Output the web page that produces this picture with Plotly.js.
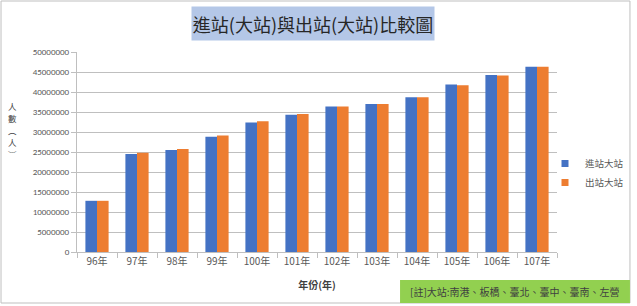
<!DOCTYPE html>
<html>
<head>
<meta charset="utf-8">
<script src="https://cdn.plot.ly/plotly-3.0.1.min.js"></script>
<style>html,body{margin:0;padding:0;background:#fff;}#chart{width:637px;height:306px;}</style>
</head>
<body>
<div id="chart"></div>
<script>
const categories = ['96年','97年','98年','99年','100年','101年','102年','103年','104年','105年','106年','107年'];
const entryValues = [12800000,24500000,25500000,28800000,32400000,34300000,36400000,37000000,38700000,41900000,44250000,46300000];
const exitValues  = [12800000,24800000,25750000,29100000,32700000,34500000,36400000,37000000,38700000,41700000,44100000,46300000];
const seriesNames = ['進站大站','出站大站'];
const seriesColors = ['#4472c4','#ed7d31'];
const yTicks = [0,5000000,10000000,15000000,20000000,25000000,30000000,35000000,40000000,45000000,50000000];
const yTitleChars = ['人','數','︵','人','︶'];

const FONT = 'Carlito, "Liberation Sans", "Noto Sans CJK TC", sans-serif';
const CJK = '"Noto Sans CJK TC", sans-serif';

const traces = [
  {type:'bar', name:seriesNames[0], x:categories, y:entryValues, marker:{color:seriesColors[0]}, showlegend:false},
  {type:'bar', name:seriesNames[1], x:categories, y:exitValues, marker:{color:seriesColors[1]}, showlegend:false},
  {type:'scatter', mode:'markers', name:seriesNames[0], x:[null], y:[null], marker:{color:seriesColors[0], symbol:'square', size:7}},
  {type:'scatter', mode:'markers', name:seriesNames[1], x:[null], y:[null], marker:{color:seriesColors[1], symbol:'square', size:7}}
];

const yTitleY = [0.73, 0.67, 0.61, 0.55, 0.49];
const yTitleAnns = yTitleChars.map((c,i)=>({
  xref:'paper', yref:'paper', x:-0.135, y:yTitleY[i], xanchor:'center', yanchor:'middle', showarrow:false,
  text:c, font:{family:CJK, size:8.5, color:'#404040'}
}));

const layout = {
  width:637, height:306,
  margin:{l:77, r:80, t:52, b:54, autoexpand:false},
  paper_bgcolor:'#ffffff', plot_bgcolor:'#ffffff',
  barmode:'group', bargap:0.42, bargroupgap:0,
  font:{family:FONT, size:9, color:'#595959'},
  showlegend:true,
  legend:{x:0.975, xanchor:'left', y:0.395, yanchor:'middle', font:{family:CJK, size:9.5, color:'#595959'}, itemwidth:30, tracegroupgap:0, bgcolor:'rgba(0,0,0,0)'},
  xaxis:{
    type:'category', tickfont:{family:CJK, size:10, color:'#595959'},
    showline:true, linecolor:'#bfbfbf', linewidth:1,
    ticks:'outside', tickson:'boundaries', ticklen:5, tickcolor:'#bfbfbf',
    showgrid:false,
    title:{text:'<b>年份(年)</b>', font:{family:CJK, size:10, color:'#404040'}, standoff:14}
  },
  yaxis:{
    range:[0,50000000], tickvals:yTicks, ticktext:yTicks.map(v=>String(v)),
    tickfont:{family:FONT, size:9, color:'#595959'},
    showline:true, linecolor:'#bfbfbf', linewidth:1,
    ticks:'outside', ticklen:5, tickcolor:'#bfbfbf',
    showgrid:true, gridcolor:'#bfbfbf', gridwidth:1, zeroline:false,
    automargin:false
  },
  shapes:[
    {type:'rect', xref:'paper', yref:'paper', x0:-0.1583, x1:1.152, y0:-0.255, y1:1.255, line:{color:'#bfbfbf', width:1}, fillcolor:'rgba(0,0,0,0)', layer:'below'},
    {type:'rect', xref:'paper', yref:'paper', x0:0.673, x1:1.152, y0:-0.255, y1:-0.14, line:{width:0}, fillcolor:'#92d050', layer:'above'}
  ],
  annotations:[
    {xref:'paper', yref:'paper', x:0.4917, y:1.1425, xanchor:'center', yanchor:'middle', showarrow:false,
     text:'進站(大站)與出站(大站)比較圖', font:{family:CJK, size:18, color:'#262626'},
     bgcolor:'#b4c7e7', width:242, height:33, borderpad:0},
    {xref:'paper', yref:'paper', x:0.9125, y:-0.1975, xanchor:'center', yanchor:'middle', showarrow:false,
     text:'[註]大站:南港、板橋、臺北、臺中、臺南、左營', font:{family:CJK, size:10, color:'#404040'}}
  ].concat(yTitleAnns)
};

Plotly.newPlot('chart', traces, layout, {staticPlot:true, displayModeBar:false});
</script>
</body>
</html>
